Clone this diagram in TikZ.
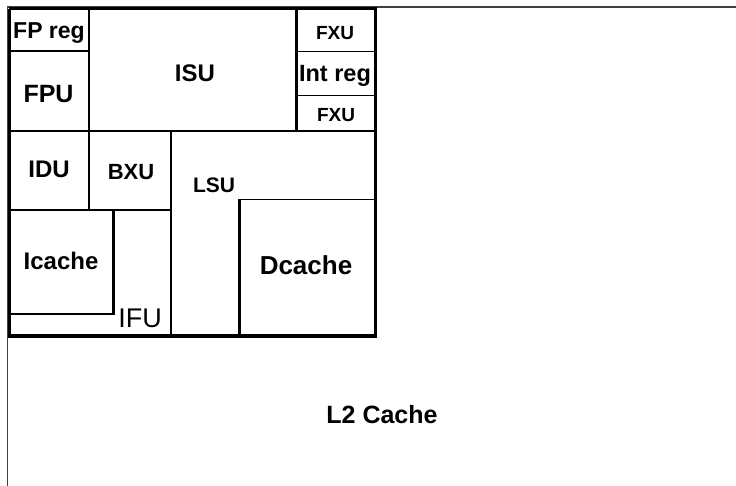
\documentclass[tikz,border=0pt]{standalone}
\usepackage{fontspec}
\setmainfont{Liberation Sans}
\newcommand{\fs}[1]{\fontsize{#1}{#1}\selectfont}
\begin{document}
\begin{tikzpicture}[x=1pt,y=-1pt,
  lbl/.style={inner sep=0pt, anchor=base, font=\bfseries},
  thinline/.style={line width=1.4pt, black},
  midline/.style={line width=2.5pt, black},
  thickline/.style={line width=3pt, black}]
\useasboundingbox (0,0) rectangle (736,486);
% L2 cache outline
\draw[line width=1.5pt, black!75] (7.5,486) -- (7.5,7) -- (736,7);
% chip outline
\draw[thickline] (9,9) -- (375,9) -- (375,336);
\draw[thickline] (9,9) -- (9,336);
\draw[line width=4pt] (7.5,336) -- (376.5,336);
% upper row
\draw[thinline] (9,51) -- (89,51);
\draw[midline] (89,9) -- (89,210);
\draw[midline] (9,131) -- (375,131);
\draw[thickline] (296,9) -- (296,131);
\draw[thinline] (296,51.5) -- (375,51.5);
\draw[thinline] (296,95.5) -- (375,95.5);
% lower part
\draw[midline] (171,131) -- (171,336);
\draw[midline] (9,210) -- (171,210);
\draw[midline] (113.5,210) -- (113.5,315);
\draw[line width=1.8pt] (9,314) -- (114.5,314);
\draw[thinline] (239.5,199.5) -- (375,199.5);
\draw[thickline] (239.5,199.5) -- (239.5,336);
% labels
\node[lbl, font=\fs{23}\bfseries] (fpreg) at (49,38.5) {FP reg};
\node[lbl, font=\fs{25}\bfseries] (fpu) at (48.5,103) {FPU};
\node[lbl, font=\fs{24}\bfseries] (isu) at (195,82) {ISU};
\node[lbl, font=\fs{19}\bfseries] (fxua) at (335,40) {FXU};
\node[lbl, font=\fs{23.5}\bfseries] (intreg) at (335,82) {Int reg};
\node[lbl, font=\fs{19}\bfseries] (fxub) at (336,122) {FXU};
\node[lbl, font=\fs{24}\bfseries] (idu) at (49,178) {IDU};
\node[lbl, font=\fs{22}\bfseries] (bxu) at (131,180) {BXU};
\node[lbl, font=\fs{21}\bfseries] (lsu) at (214,193) {LSU};
\node[lbl, font=\fs{24}\bfseries] (icache) at (61,270) {Icache};
\node[lbl, font=\fs{27}] (ifu) at (140,327) {IFU};
\node[lbl, font=\fs{26}\bfseries] (dcache) at (306,275) {Dcache};
\node[lbl, font=\fs{25}\bfseries] (l2) at (382,423) {L2 Cache};
\end{tikzpicture}
\end{document}
